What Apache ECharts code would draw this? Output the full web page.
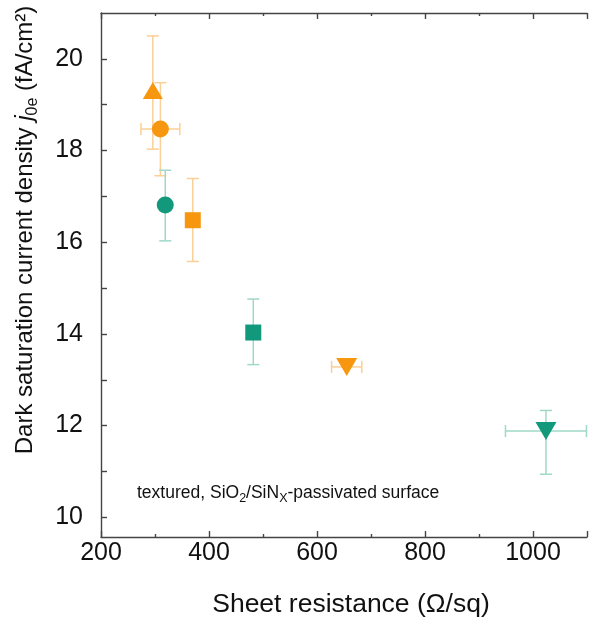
<!DOCTYPE html>
<html>
<head>
<meta charset="utf-8">
<script src="https://cdn.jsdelivr.net/npm/echarts@6/dist/echarts.min.js"></script>
<style>
  html, body { margin: 0; padding: 0; background: #fff; }
  #chart { width: 590px; height: 621px; }
</style>
</head>
<body>
<div id="chart"></div>
<script>
// orange set
var orangeX = [296, 310, 370, 655];
var orangeY = [19.31, 18.47, 16.48, 13.28];
var orangeXErr = [0, 36, 0, 28];
var orangeYErrUp = [1.19, 1.01, 0.91, 0];
var orangeYErrDown = [1.28, 1.02, 0.90, 0];
var orangeShapes = ['triangle', 'circle', 'rect', 'triangle-down'];

// green set
var greenX = [319, 482, 1024];
var greenY = [16.81, 14.03, 11.88];
var greenXErr = [0, 0, 75];
var greenYErrUp = [0.76, 0.73, 0.45];
var greenYErrDown = [0.78, 0.70, 0.94];
var greenShapes = ['circle', 'rect', 'triangle-down'];

var xLabels = [200, 400, 600, 800, 1000];
var yLabels = [10, 12, 14, 16, 18, 20];
var yTicks = [10, 11, 12, 13, 14, 15, 16, 17, 18, 19, 20];

var ORANGE = '#F7960F', ORANGE_ERR = '#FBCF96';
var GREEN = '#12987A', GREEN_ERR = '#9FD8C8';
var FONT = 'Liberation Sans, Arial, sans-serif';

var symbolSizes = {
    'triangle': [20, 17],
    'circle': 17,
    'rect': 16,
    'triangle-down': [21, 18]
};

function markerData(xs, ys, shapes) {
    return xs.map(function(x, i) {
        var s = shapes[i];
        return {
            value: [x, ys[i]],
            symbol: s === 'triangle-down' ? 'triangle' : s,
            symbolRotate: s === 'triangle-down' ? 180 : 0,
            symbolSize: symbolSizes[s]
        };
    });
}

function errData(xs, ys, xe, yu, yd) {
    return xs.map(function(x, i) {
        return [x, ys[i], x - xe[i], x + xe[i], ys[i] - yd[i], ys[i] + yu[i]];
    });
}

function errRender(color) {
    return function(params, api) {
        var c = api.coord([api.value(0), api.value(1)]);
        var xl = api.coord([api.value(2), api.value(1)])[0];
        var xh = api.coord([api.value(3), api.value(1)])[0];
        var yl = api.coord([api.value(0), api.value(4)])[1];
        var yh = api.coord([api.value(0), api.value(5)])[1];
        var cap = 6;
        var st = { stroke: color, lineWidth: 1.5 };
        var kids = [];
        if (Math.abs(yl - yh) > 1) {
            kids.push({ type: 'line', shape: { x1: c[0], y1: yl, x2: c[0], y2: yh }, style: st });
            kids.push({ type: 'line', shape: { x1: c[0] - cap, y1: yl, x2: c[0] + cap, y2: yl }, style: st });
            kids.push({ type: 'line', shape: { x1: c[0] - cap, y1: yh, x2: c[0] + cap, y2: yh }, style: st });
        }
        if (Math.abs(xh - xl) > 1) {
            kids.push({ type: 'line', shape: { x1: xl, y1: c[1], x2: xh, y2: c[1] }, style: st });
            kids.push({ type: 'line', shape: { x1: xl, y1: c[1] - cap, x2: xl, y2: c[1] + cap }, style: st });
            kids.push({ type: 'line', shape: { x1: xh, y1: c[1] - cap, x2: xh, y2: c[1] + cap }, style: st });
        }
        return { type: 'group', children: kids };
    };
}

var chart = echarts.init(document.getElementById('chart'));

var axisLineStyle = { color: '#444', width: 1.4 };

function xAxisCfg(pos, showLabel) {
    return {
        type: 'value', position: pos, min: 200, max: 1100, interval: 200,
        axisLine: { lineStyle: axisLineStyle },
        axisTick: { inside: true, length: 6, lineStyle: axisLineStyle },
        minorTick: { show: true, splitNumber: 2, length: 3, lineStyle: axisLineStyle },
        axisLabel: {
            show: showLabel, margin: 4, fontSize: 25, color: '#111', fontFamily: FONT,
            customValues: xLabels,
            formatter: function(v) { return String(v); }
        },
        splitLine: { show: false },
        minorSplitLine: { show: false }
    };
}

var option = {
    backgroundColor: '#fff',
    animation: false,
    grid: { left: 101, right: 3, top: 13, bottom: 84, containLabel: false, outerBoundsMode: 'none' },
    xAxis: [xAxisCfg('bottom', true), xAxisCfg('top', false)],
    yAxis: [{
        type: 'value', min: 9.57, max: 21,
        axisLine: { show: true, lineStyle: axisLineStyle },
        axisTick: { show: true, inside: true, length: 6, lineStyle: axisLineStyle, customValues: yTicks },
        axisLabel: { margin: 18, fontSize: 25, color: '#111', fontFamily: FONT, customValues: yLabels },
        splitLine: { show: false }
    }],
    graphic: [{
        type: 'text', x: 27, y: 230, rotation: Math.PI / 2,
        style: {
            text: '{n|Dark saturation current density }{i|j}{s|0e}{n| (fA/cm²)}',
            align: 'center', verticalAlign: 'middle',
            rich: {
                n: { fontSize: 24, fontFamily: FONT, fill: '#111', padding: [0, 0, 4, 0], verticalAlign: 'bottom' },
                i: { fontSize: 24, fontFamily: FONT, fontStyle: 'italic', fill: '#111', padding: [0, 0, 4, 0], verticalAlign: 'bottom' },
                s: { fontSize: 16, fontFamily: FONT, fill: '#111', verticalAlign: 'bottom' }
            }
        }
    }, {
        type: 'text', x: 351, y: 605,
        style: {
            text: 'Sheet resistance (Ω/sq)', align: 'center', verticalAlign: 'middle',
            fontSize: 26.5, fontFamily: FONT, fill: '#111'
        }
    }, {
        type: 'text', x: 137, y: 495,
        style: {
            text: '{n|textured, SiO}{s|2}{n|/SiN}{s|X}{n|-passivated surface}',
            align: 'left', verticalAlign: 'middle',
            rich: {
                n: { fontSize: 17.5, fontFamily: FONT, fill: '#111', padding: [0, 0, 3, 0], verticalAlign: 'bottom' },
                s: { fontSize: 12.5, fontFamily: FONT, fill: '#111', verticalAlign: 'bottom' }
            }
        }
    }],
    series: [{
        type: 'custom', name: 'orangeErr', xAxisIndex: 0, yAxisIndex: 0,
        renderItem: errRender(ORANGE_ERR),
        encode: { x: [0, 2, 3], y: [1, 4, 5] },
        data: errData(orangeX, orangeY, orangeXErr, orangeYErrUp, orangeYErrDown),
        z: 1
    }, {
        type: 'custom', name: 'greenErr', xAxisIndex: 0, yAxisIndex: 0,
        renderItem: errRender(GREEN_ERR),
        encode: { x: [0, 2, 3], y: [1, 4, 5] },
        data: errData(greenX, greenY, greenXErr, greenYErrUp, greenYErrDown),
        z: 1
    }, {
        type: 'scatter', name: 'orange', xAxisIndex: 0, yAxisIndex: 0,
        itemStyle: { color: ORANGE, opacity: 1 },
        data: markerData(orangeX, orangeY, orangeShapes),
        z: 3
    }, {
        type: 'scatter', name: 'green', xAxisIndex: 0, yAxisIndex: 0,
        itemStyle: { color: GREEN, opacity: 1 },
        data: markerData(greenX, greenY, greenShapes),
        z: 3
    }]
};

chart.setOption(option);
</script>
</body>
</html>
